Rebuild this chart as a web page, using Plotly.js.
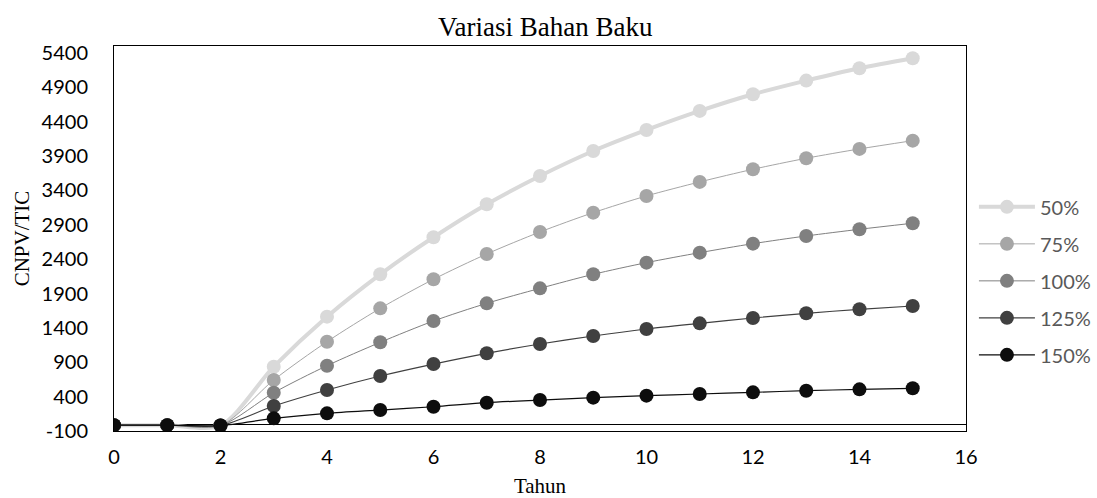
<!DOCTYPE html>
<html>
<head>
<meta charset="utf-8">
<script src="https://cdn.plot.ly/plotly-3.0.1.min.js"></script>
<style>html,body{margin:0;padding:0;background:#fff;}#chart{width:1097px;height:498px;}</style>
</head>
<body>
<div id="chart"></div>
<script>
const years = [0,1,2,3,4,5,6,7,8,9,10,11,12,13,14,15];
const seriesNames = ["50%","75%","100%","125%","150%"];
const s50  = [-15,-15,-20,835,1563,2179,2718,3198,3610,3973,4279,4556,4798,4997,5177,5322];
const s75  = [-15,-15,-20,642,1199,1684,2107,2475,2795,3076,3319,3523,3707,3867,4003,4123];
const s100 = [-15,-15,-20,457,850,1190,1500,1757,1975,2179,2349,2494,2625,2737,2834,2922];
const s125 = [-15,-15,-20,263,496,700,874,1030,1165,1282,1384,1466,1544,1612,1670,1718];
const s150 = [-15,-15,-20,84,157,205,253,312,350,385,414,438,462,486,506,521];
const yTicks = [-100,400,900,1400,1900,2400,2900,3400,3900,4400,4900,5400];
const xTicks = [0,2,4,6,8,10,12,14,16];

const allValues = [s50,s75,s100,s125,s150];
const markerColors = ["#d9d9d9","#a6a6a6","#808080","#404040","#0d0d0d"];
const lineColors = ["#d9d9d9","#a6a6a6","#808080","#404040","#0d0d0d"];
const lineWidths = [4,1,1,1.2,1.2];

const traces = allValues.map((vals,i)=>({
  x: years, y: vals, name: seriesNames[i], type: 'scatter', mode: 'lines+markers',
  legendgroup: 'g'+i,
  line: {color: lineColors[i], width: lineWidths[i], shape: 'spline', smoothing: 0.8},
  marker: {color: markerColors[i], size: 14}
}));

const serif = 'Liberation Serif, Times New Roman, serif';
const sans = 'Lato, Carlito, sans-serif';

const layout = {
  width: 1097, height: 498,
  margin: {l:114, r:0, t:46, b:67, autoexpand: false},
  paper_bgcolor: '#fff', plot_bgcolor: '#fff',
  title: {text: 'Variasi Bahan Baku', x: 0.497, xanchor: 'center', y: 0.947, yanchor: 'middle',
          font: {family: serif, size: 27, color: '#000'}},
  xaxis: {range: [0,16], domain: [0, 0.8667], tickvals: xTicks, ticktext: xTicks.map(String), showgrid: false,
          zeroline: false, showline: true, linecolor: '#000', linewidth: 1, mirror: true,
          ticks: '', ticklen: 0, ticklabelstandoff: 8,
          tickfont: {family: sans, size: 20, color: '#000'},
          title: {text: 'Tahun', standoff: 13, font: {family: serif, size: 21, color: '#000'}}},
  yaxis: {range: [-100,5500], tickvals: yTicks, ticktext: yTicks.map(String), showgrid: false,
          zeroline: true, zerolinecolor: '#000', zerolinewidth: 1,
          showline: true, linecolor: '#000', linewidth: 1, mirror: true,
          ticks: '', ticklen: 0, ticklabelstandoff: 21,
          tickfont: {family: sans, size: 20, color: '#000'},
          title: {text: 'CNPV/TIC', standoff: 6, font: {family: serif, size: 21, color: '#000'}}},
  showlegend: true,
  legend: {x: 0.8748, xanchor: 'left', y: 0.39, yanchor: 'middle', tracegroupgap: 8,
           font: {family: sans, size: 20, color: '#595959'},
           itemwidth: 56, bgcolor: 'rgba(0,0,0,0)'}
};

Plotly.newPlot('chart', traces, layout, {displayModeBar: false, staticPlot: true});
</script>
</body>
</html>
